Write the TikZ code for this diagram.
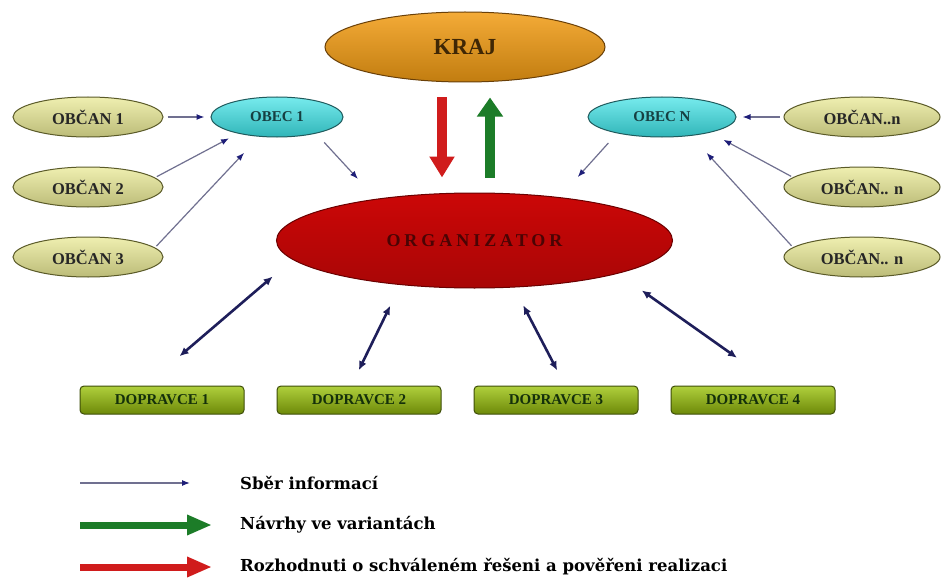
\documentclass[tikz,border=0pt]{standalone}
\usepackage{fontspec}
\setmainfont{Liberation Serif}
\newfontfamily\legendfont{DejaVu Serif}
\usetikzlibrary{shapes.geometric,arrows.meta,positioning}

\definecolor{obcanfill}{HTML}{EAEA96}
\definecolor{obcanline}{HTML}{5A5A28}
\definecolor{obecfill}{HTML}{3CE2E6}
\definecolor{obecline}{HTML}{1F5A5C}
\definecolor{krajfill}{HTML}{F29C14}
\definecolor{krajline}{HTML}{6A4008}
\definecolor{orgfill}{HTML}{F00808}
\definecolor{orgline}{HTML}{6A0000}
\definecolor{orgtext}{HTML}{4A0404}
\definecolor{dopfill}{HTML}{9CC40C}
\definecolor{dopline}{HTML}{3E4E08}
\definecolor{doptext}{HTML}{14300A}
\definecolor{sberline}{HTML}{707090}
\definecolor{sberhead}{HTML}{1E1E78}
\definecolor{dvojline}{HTML}{1E1E5A}
\definecolor{navrhgreen}{HTML}{1C7C28}
\definecolor{rozhodred}{HTML}{D01C1C}

\tikzset{
    obcanell/.style={ellipse, draw=obcanline, line width=1pt, top color=obcanfill!75!white,
        middle color=obcanfill, bottom color=obcanfill!80!black, minimum width=150pt,
        minimum height=40pt, inner sep=0pt, text=black!85,
        font=\fontsize{16.5}{18}\selectfont\bfseries},
    obecell/.style={ellipse, draw=obecline, line width=1pt, top color=obecfill!70!white,
        middle color=obecfill, bottom color=obecfill!80!black, minimum width=132pt,
        minimum height=40pt, inner sep=0pt, text=obecline!70!black,
        font=\fontsize{15}{17}\selectfont\bfseries},
    dopbox/.style={rectangle, rounded corners=4pt, draw=dopline, line width=1pt,
        top color=dopfill!80!white, middle color=dopfill, bottom color=dopfill!70!black,
        minimum width=164pt, minimum height=28pt, inner sep=0pt, text=doptext,
        font=\fontsize{15}{17}\selectfont\bfseries},
    sber/.style={draw=sberline, line width=1.2pt,
        -{Latex[length=8pt,width=6pt,color=sberhead]}},
    dvoj/.style={draw=dvojline, line width=2.6pt,
        {Latex[length=9pt,width=8pt]}-{Latex[length=9pt,width=8pt]}},
    navrh/.style={draw=navrhgreen, line width=10pt,
        -{Triangle[length=19pt,width=25pt]}},
    rozhod/.style={draw=rozhodred, line width=10pt,
        -{Triangle[length=21pt,width=24pt]}},
    legendtext/.style={anchor=west, inner sep=0pt,
        font=\legendfont\fontsize{16.5}{19}\selectfont\bfseries}
}

\begin{document}
\begin{tikzpicture}[x=1pt, y=-1pt]
    \useasboundingbox (0,0) rectangle (943,578);
    \fill [white] (0,0) rectangle (943,578);

    \node [ellipse, draw=krajline, line width=1pt, top color=krajfill!85!white,
        middle color=krajfill, bottom color=krajfill!80!black, minimum width=280pt,
        minimum height=70pt, inner sep=0pt, text=krajline!60!black,
        font=\fontsize{23}{26}\selectfont\bfseries] (kraj) at (465,47) {KRAJ};
    \node [ellipse, draw=orgline, line width=1pt, top color=orgfill!85!black,
        middle color=orgfill, bottom color=orgfill!70!black, minimum width=396pt,
        minimum height=95pt, inner sep=0pt, text=orgtext,
        font=\fontsize{18}{20}\selectfont\bfseries\addfontfeature{LetterSpace=22}] (org) at (474.5,240.5) {ORGANIZATOR};

\node [obecell] (obec1) at (277,117) {OBEC 1};
\node [obecell, minimum width=148pt] (obecN) at (662,117) {OBEC N};

\node [obcanell] (obcan1) at (88,117) {OBČAN 1};
\node [obcanell] (obcan2) at (88,187) {OBČAN 2};
\node [obcanell] (obcan3) at (88,257) {OBČAN 3};
\node [obcanell, minimum width=156pt] (obcanN1) at (862,117) {OBČAN..n};
\node [obcanell, minimum width=156pt] (obcanN2) at (862,187) {OBČAN.. n};
\node [obcanell, minimum width=156pt] (obcanN3) at (862,257) {OBČAN.. n};

\node [dopbox] (dop1) at (162,400) {DOPRAVCE 1};
\node [dopbox] (dop2) at (359,400) {DOPRAVCE 2};
\node [dopbox] (dop3) at (556,400) {DOPRAVCE 3};
\node [dopbox] (dop4) at (753,400) {DOPRAVCE 4};

\draw [sber, shorten <=4pt, shorten >=6pt] (obcan1) -- (obec1);
\draw [sber, shorten <=2pt, shorten >=10pt] (obcan2.8) -- (obec1.203);
\draw [sber, shorten <=2pt, shorten >=22pt] (obcan3.8) -- (obec1.228);
\draw [sber, shorten <=12pt, shorten >=27pt] (obec1.-23) -- (org.157);
\draw [sber, shorten <=4pt, shorten >=6pt] (obcanN1) -- (obecN);
\draw [sber, shorten <=2pt, shorten >=15pt] (obcanN2.172) -- (obecN.342);
\draw [sber, shorten <=2pt, shorten >=23pt] (obcanN3.172) -- (obecN.327);
\draw [sber, shorten <=13pt, shorten >=27pt] (obecN.200) -- (org.27);

\coordinate (rtop) at ([xshift=-23pt]kraj.south);
\coordinate (gtop) at ([xshift=25pt]kraj.south);
\draw [rozhod, shorten <=15pt, shorten >=15pt] (rtop) -- (rtop |- org.north);
\draw [navrh, shorten <=15pt, shorten >=15pt] (gtop |- org.north) -- (gtop);

\draw [dvoj, shorten <=26pt, shorten >=45pt] (org.186) -- (dop1.139.5);
\draw [dvoj, shorten <=23pt, shorten >=17pt] (org.211) -- (dop2.118);
\draw [dvoj, shorten <=20pt, shorten >=17pt] (org.310) -- (dop3.58);
\draw [dvoj, shorten <=29pt, shorten >=48pt] (org.347) -- (dop4.32);

\node [legendtext] (leg1) at (240,483) {Sběr informací};
\node [legendtext] (leg2) at (240,525) {Návrhy ve variantách};
\node [legendtext] (leg3) at (240,567) {Rozhodnuti o schváleném řešeni a pověřeni realizaci};
\coordinate (leg1a) at (80,483);
\coordinate (leg2a) at (80,525);
\coordinate (leg3a) at (80,567);
\draw [sber] (leg1a) -- ([xshift=-50pt]leg1.west);
\draw [navrh, line width=7pt, -{Triangle[length=25pt,width=19pt]}] (leg2a) -- ([xshift=-28pt]leg2.west);
\draw [rozhod, line width=7pt, -{Triangle[length=25pt,width=19pt]}] (leg3a) -- ([xshift=-28pt]leg3.west);
\end{tikzpicture}
\end{document}
